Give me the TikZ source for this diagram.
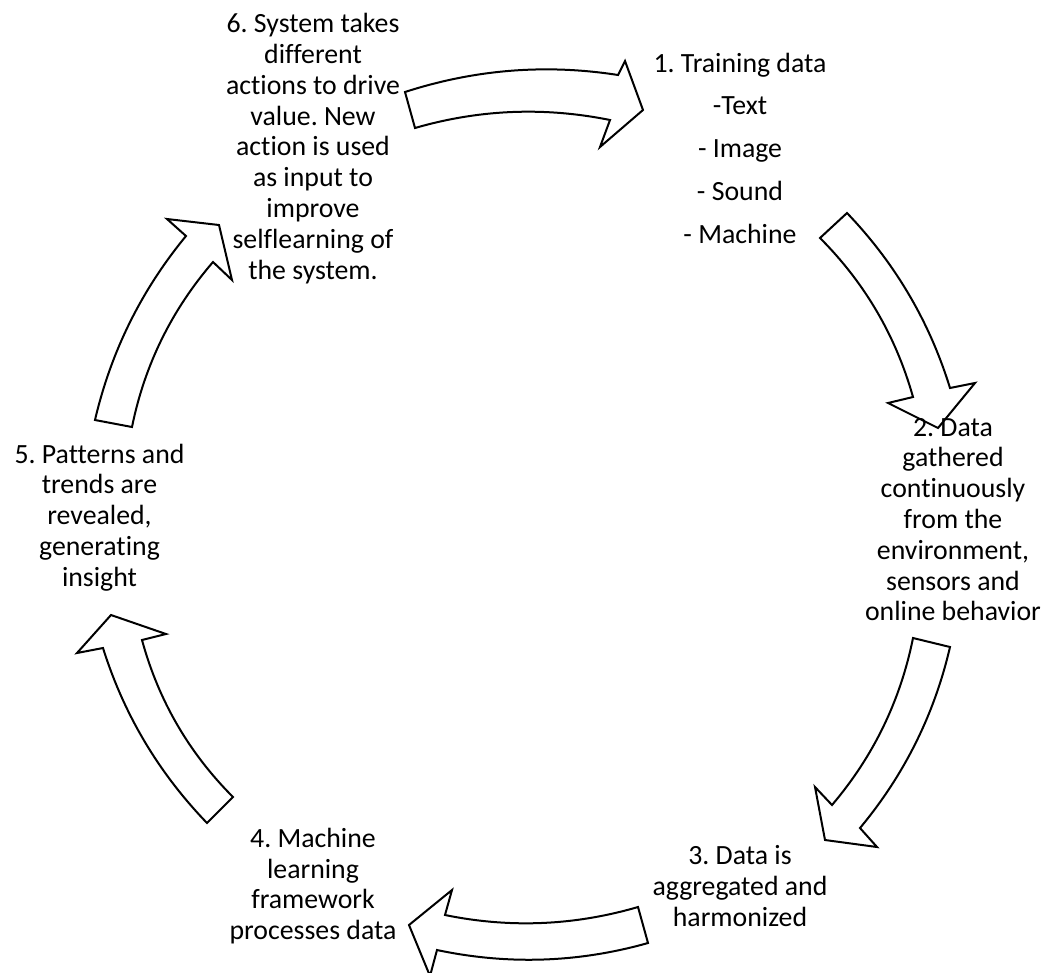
\documentclass[tikz,border=0pt]{standalone}
\usepackage{fontspec}
\setmainfont{Carlito}[Ligatures=NoCommon]
\frenchspacing
\begin{document}
\begin{tikzpicture}[x=0.75pt,y=-0.75pt,
  blockarrow/.style={draw=black, fill=white, line width=1.5pt, line join=miter},
  lbl/.style={inner sep=0pt, align=center, font=\fontsize{20.85pt}{23.1pt}\selectfont\frenchspacing},
  lbllist/.style={inner sep=0pt, align=center, font=\fontsize{20.85pt}{32.06pt}\selectfont\frenchspacing}]
\useasboundingbox (0,0) rectangle (1056,972);
\fill[white] (0,0) rectangle (1056,972);

% 6 -> 1
\path[blockarrow] (405,92) .. controls (474.7,69.4) and (545.7,63.7) .. (618,75) -- (625,61) -- (643,110) -- (600,147) -- (610,120) .. controls (544.3,106.7) and (479.3,109.35) .. (415,128) -- cycle;
% 1 -> 2
\path[blockarrow] (847,213) .. controls (895.1,263.2) and (929.5,321.6) .. (950,388) -- (975,383) -- (938,428) -- (888,403) -- (913,397) .. controls (895.8,335.9) and (864.8,282.9) .. (820,238) -- cycle;
% 2 -> 3
\path[blockarrow] (950,647) .. controls (934.3,714.5) and (904.3,774.8) .. (860,828) -- (877,847) -- (825,840) -- (815,787) -- (832,805) .. controls (873.4,756.3) and (900.4,700.6) .. (913,638) -- cycle;
% 3 -> 4
\path[blockarrow] (648,943) .. controls (578.2,962.7) and (507.9,965.0) .. (437,950) -- (430,976) -- (409,925) -- (452,890) -- (445,915) .. controls (510.0,928.3) and (574.3,925.6) .. (638,907) -- cycle;
% 4 -> 5
\path[blockarrow] (207,823) .. controls (158.6,772.8) and (123.9,714.5) .. (103,648) -- (77,653) -- (111,615) -- (166,634) -- (142,640) .. controls (158.5,700.4) and (188.8,752.7) .. (233,797) -- cycle;
% 5 -> 6
\path[blockarrow] (95,420) .. controls (111.0,351.6) and (141.3,290.2) .. (186,236) -- (167,219) -- (219,225) -- (232,280) -- (213,262) .. controls (171.6,310.0) and (144.6,365.0) .. (132,427) -- cycle;

\node[lbllist] (t1) at (740,148) {1. Training data\\-Text\\- Image\\- Sound\\- Machine};
\node[lbl] (t2) at (953,519.5) {2. Data\\gathered\\continuously\\from the\\environment,\\sensors and\\online behavior};
\node[lbl] (t3) at (740,886) {3. Data is\\aggregated and\\harmonized};
\node[lbl] (t4) at (313,886) {4. Machine\\learning\\framework\\processes data};
\node[lbl] (t5) at (99.5,517.5) {5. Patterns and\\trends are\\revealed,\\generating\\insight};
\node[lbl] (t6) at (313,148.5) {6. System takes\\different\\actions to drive\\value. New\\action is used\\as input to\\improve\\selflearning of\\the system.};
\end{tikzpicture}
\end{document}
